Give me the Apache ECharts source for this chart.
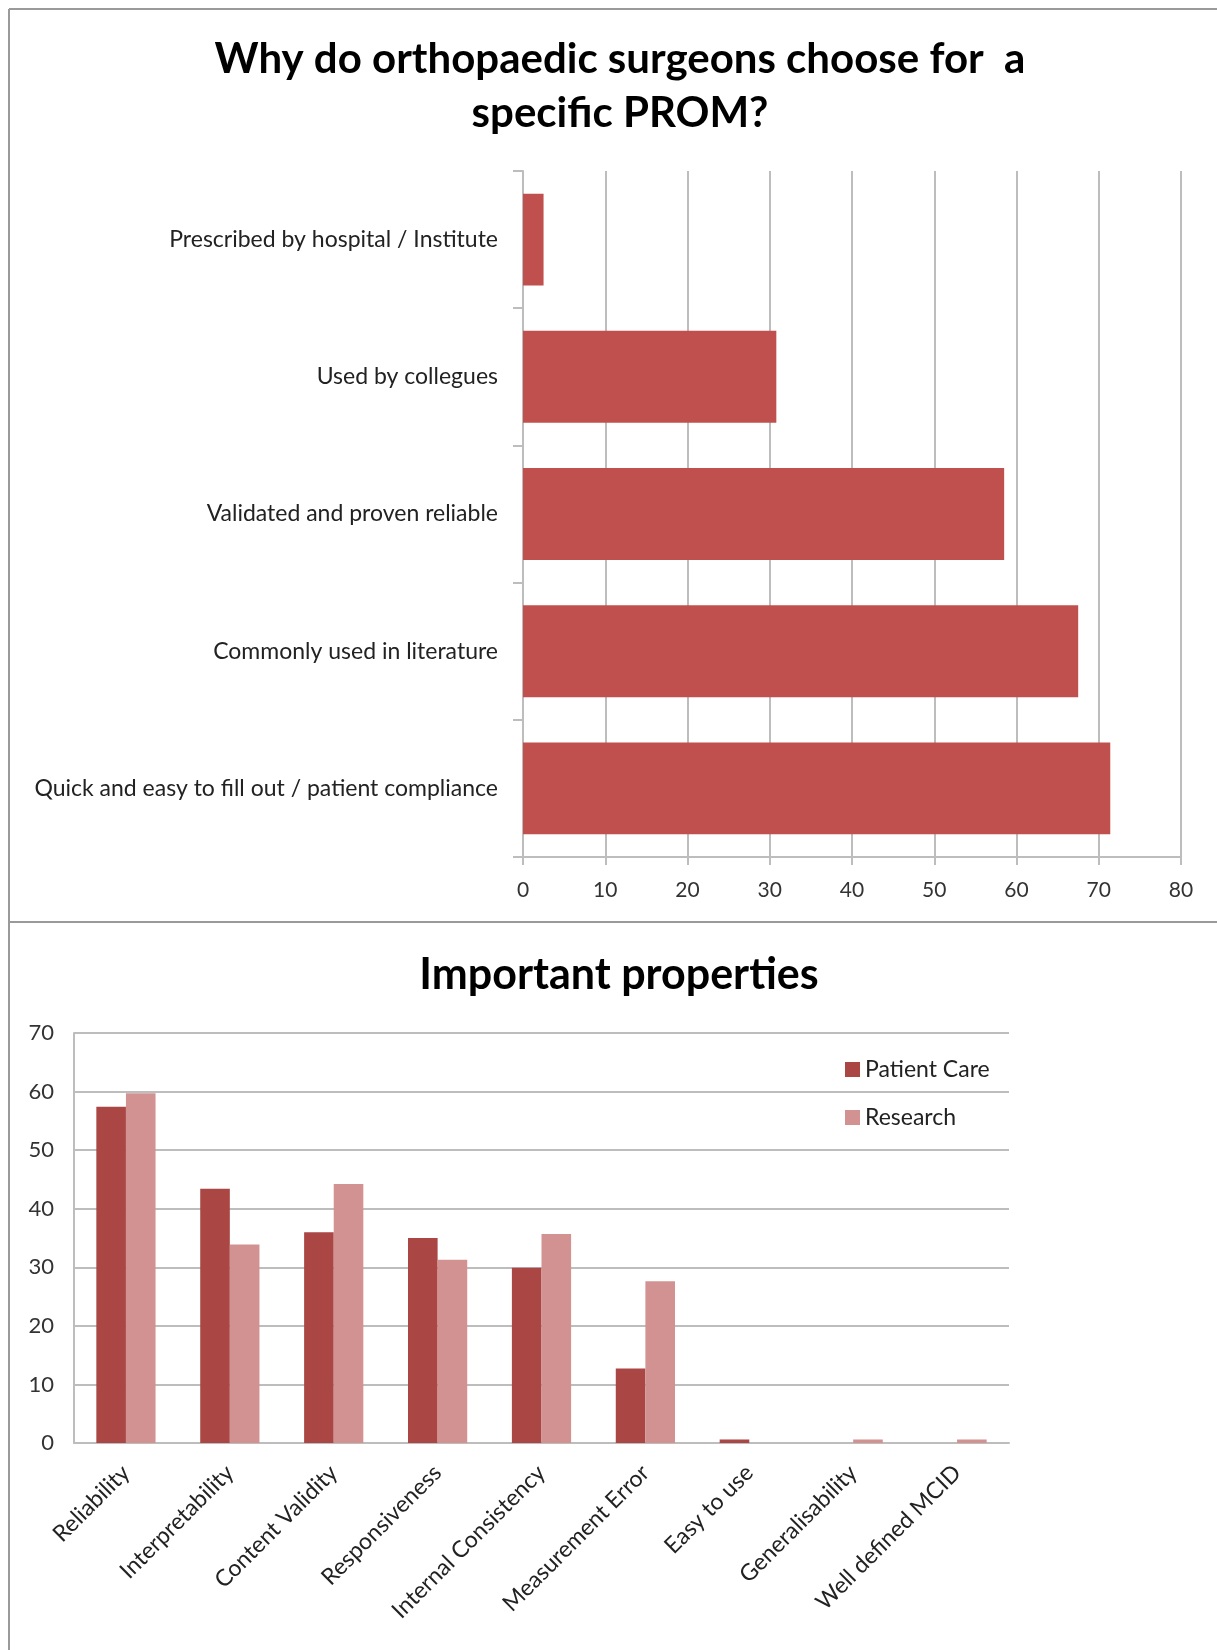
<!DOCTYPE html>
<html>
<head>
<meta charset="UTF-8">
<title>PROM survey</title>
<script src="https://cdn.jsdelivr.net/npm/echarts@6/dist/echarts.min.js"></script>
<style>
  html, body { margin: 0; padding: 0; background: #fff; }
  #main { width: 1217px; height: 1650px; }
</style>
</head>
<body>
<div id="main"></div>
<script>
// top chart: reasons (% of surgeons)
var reasons = [
  'Prescribed by hospital / Institute',
  'Used by collegues',
  'Validated and proven reliable',
  'Commonly used in literature',
  'Quick and easy to fill out / patient compliance'
];
var reasonValues = [2.5, 30.8, 58.5, 67.5, 71.4];
var reasonTicks = [0, 10, 20, 30, 40, 50, 60, 70, 80];

// bottom chart: important properties
var properties = ['Reliability', 'Interpretability', 'Content Validity', 'Responsiveness',
  'Internal Consistency', 'Measurement Error', 'Easy to use', 'Generalisability', 'Well defined MCID'];
var patientCare = [57.4, 43.4, 36.0, 35.0, 29.9, 12.7, 0.6, 0, 0];
var research = [59.7, 33.9, 44.2, 31.3, 35.7, 27.6, 0, 0.6, 0.6];
var propTicks = [0, 10, 20, 30, 40, 50, 60, 70];

var font = 'Lato, "Open Sans", sans-serif';
var gridGray = '#bdbdbd';

var chart = echarts.init(document.getElementById('main'));

var option = {
  backgroundColor: '#fff',
  animation: false,
  textStyle: { fontFamily: font },
  title: [
    {
      text: 'Why do orthopaedic surgeons choose for  a\nspecific PROM?',
      left: 615, top: 27, textAlign: 'center',
      textStyle: { fontSize: 42, fontWeight: 'bold', color: '#000', lineHeight: 54, fontFamily: font }
    },
    {
      text: 'Important properties',
      left: 614, top: 949, textAlign: 'center',
      textStyle: { fontSize: 43, fontWeight: 'bold', color: '#000', fontFamily: font }
    }
  ],
  legend: {
    data: ['Patient Care', 'Research'],
    orient: 'vertical',
    left: 840, top: 1053,
    itemWidth: 15, itemHeight: 15, itemGap: 25,
    icon: 'rect',
    textStyle: { fontSize: 23, color: '#222', fontFamily: font }
  },
  grid: [
    { left: 523, top: 171, right: 36, bottom: 793 },
    { left: 74, top: 1033, right: 208, bottom: 207 }
  ],
  xAxis: [
    {
      gridIndex: 0, type: 'value', min: reasonTicks[0], max: reasonTicks[reasonTicks.length - 1], interval: 10,
      axisLine: { show: true, lineStyle: { color: gridGray, width: 2 } },
      axisTick: { show: true, length: 8, lineStyle: { color: gridGray, width: 2 } },
      splitLine: { show: true, lineStyle: { color: gridGray, width: 2 } },
      axisLabel: { fontSize: 21, color: '#333', margin: 23, fontFamily: font }
    },
    {
      gridIndex: 1, type: 'category', data: properties,
      axisLine: { show: true, lineStyle: { color: gridGray, width: 2 } },
      axisTick: { show: false },
      axisLabel: { rotate: 45, fontSize: 23, color: '#222', margin: 26, interval: 0, fontFamily: font }
    }
  ],
  yAxis: [
    {
      gridIndex: 0, type: 'category', data: reasons, inverse: true,
      axisLine: { show: true, lineStyle: { color: gridGray, width: 2 } },
      axisTick: { show: true, length: 10, lineStyle: { color: gridGray, width: 2 } },
      axisLabel: { fontSize: 23, color: '#222', margin: 25, fontFamily: font }
    },
    {
      gridIndex: 1, type: 'value', min: propTicks[0], max: propTicks[propTicks.length - 1], interval: 10,
      axisLine: { show: true, lineStyle: { color: gridGray, width: 2 } },
      axisTick: { show: false },
      splitLine: { show: true, lineStyle: { color: gridGray, width: 2 } },
      axisLabel: { fontSize: 22, color: '#333', margin: 20, fontFamily: font }
    }
  ],
  series: [
    {
      name: 'Reasons', type: 'bar', xAxisIndex: 0, yAxisIndex: 0,
      data: reasonValues, barCategoryGap: '33%',
      itemStyle: { color: '#c0504d' }
    },
    {
      name: 'Patient Care', type: 'bar', xAxisIndex: 1, yAxisIndex: 1,
      data: patientCare, barGap: '0%', barCategoryGap: '43%',
      itemStyle: { color: '#aa4644' }
    },
    {
      name: 'Research', type: 'bar', xAxisIndex: 1, yAxisIndex: 1,
      data: research, barGap: '0%', barCategoryGap: '43%',
      itemStyle: { color: '#d39292' }
    }
  ],
  // frame lines of the two pasted charts
  graphic: [
    { type: 'line', shape: { x1: 9, y1: 9, x2: 1217, y2: 9 }, style: { stroke: '#9a9a9a', lineWidth: 2 } },
    { type: 'line', shape: { x1: 9, y1: 9, x2: 9, y2: 1650 }, style: { stroke: '#9a9a9a', lineWidth: 2 } },
    { type: 'line', shape: { x1: 9, y1: 922, x2: 1217, y2: 922 }, style: { stroke: '#9a9a9a', lineWidth: 2 } }
  ]
};

chart.setOption(option);
</script>
</body>
</html>
